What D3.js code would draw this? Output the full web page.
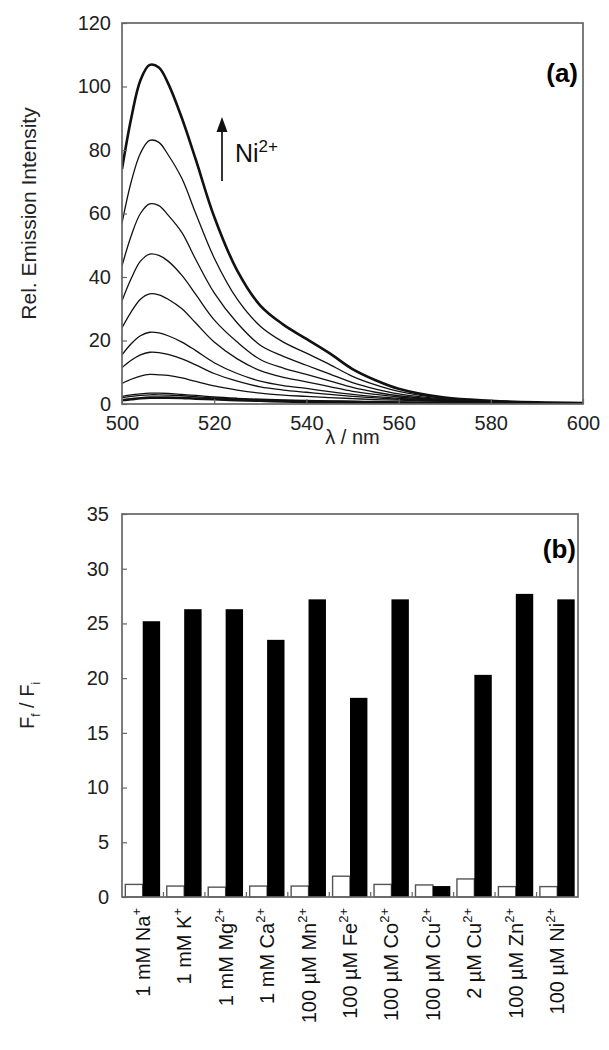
<!DOCTYPE html>
<html>
<head>
<meta charset="UTF-8" />
<script src="https://d3js.org/d3.v7.min.js"></script>
<style>
  body { margin: 0; background: #fff; }
  svg { display: block; font-family: "Liberation Sans", Arial, sans-serif; }
  .frame { fill: none; stroke: #666; stroke-width: 1.7; }
  .tick text { font-size: 20px; fill: #222; }
  .tick line { stroke: #666; stroke-width: 1.2; }
</style>
</head>
<body>
<svg width="609" height="1050"></svg>
<script>
// --- panel (a): emission spectra, wavelength in nm ---
const wavelengths = [500, 502, 504, 506, 508, 510, 513, 516, 520, 525, 530, 535, 540, 545, 550, 555, 560, 570, 580, 590, 600];
const spectra = [
  [74, 90, 102, 106.8, 106, 101, 90, 77, 59, 42, 31, 25, 20.5, 16, 11, 7.5, 4.8, 2, 1, 0.5, 0.3],
  [57, 70, 79, 83, 82.4, 78.5, 71, 60, 46, 33, 24.5, 19.5, 16, 12.5, 8.7, 6, 4, 1.8, 1, 0.5, 0.3],
  [43.5, 53, 60, 63, 62.5, 59.5, 54, 45.5, 35, 25.5, 18.5, 15, 12.2, 9.5, 6.7, 4.7, 3.2, 1.6, 0.9, 0.5, 0.3],
  [32.5, 39.5, 45, 47.2, 46.8, 45, 40.5, 34.5, 26.5, 19.5, 14, 11.3, 9.3, 7.3, 5.2, 3.7, 2.6, 1.4, 0.8, 0.4, 0.3],
  [24, 29, 33, 34.7, 34.4, 33, 30, 25.5, 19.5, 14.2, 10.5, 8.4, 7, 5.5, 4, 3, 2.2, 1.2, 0.7, 0.4, 0.3],
  [15.5, 19, 21.5, 22.6, 22.4, 21.5, 19.5, 16.8, 13, 9.6, 7.2, 5.8, 4.9, 3.9, 3, 2.3, 1.8, 1.1, 0.6, 0.4, 0.3],
  [11.5, 13.8, 15.5, 16.3, 16.2, 15.6, 14.2, 12.3, 9.6, 7.2, 5.4, 4.4, 3.7, 3, 2.4, 1.9, 1.5, 0.9, 0.6, 0.4, 0.3],
  [6.5, 7.8, 8.8, 9.3, 9.2, 9, 8.2, 7.1, 5.7, 4.4, 3.4, 2.8, 2.4, 2, 1.7, 1.4, 1.2, 0.8, 0.5, 0.3, 0.2],
  [2.4, 2.9, 3.2, 3.4, 3.4, 3.3, 3.0, 2.7, 2.2, 1.8, 1.5, 1.3, 1.1, 1.0, 0.9, 0.8, 0.7, 0.5, 0.4, 0.3, 0.2],
  [2.0, 2.4, 2.7, 2.9, 2.9, 2.8, 2.6, 2.3, 1.9, 1.6, 1.3, 1.1, 1.0, 0.9, 0.8, 0.7, 0.6, 0.4, 0.3, 0.2, 0.2],
  [1.2, 1.5, 1.8, 2.0, 2.0, 2.0, 1.9, 1.7, 1.5, 1.2, 1.0, 0.8, 0.6, 0.5, 0.4, 0.3, 0.3, 0.2, 0.2, 0.1, 0.1]
];
const boldCurves = [0, 10]; // first and last spectrum drawn thicker
const xTicksA = [500, 520, 540, 560, 580, 600];
const yTicksA = [0, 20, 40, 60, 80, 100, 120];

// --- panel (b): Ff/Fi per metal ion ---
const ions = [
  ["1 mM Na", "+"], ["1 mM K", "+"], ["1 mM Mg", "2+"], ["1 mM Ca", "2+"],
  ["100 µM Mn", "2+"], ["100 µM Fe", "2+"], ["100 µM Co", "2+"], ["100 µM Cu", "2+"],
  ["2 µM Cu", "2+"], ["100 µM Zn", "2+"], ["100 µM Ni", "2+"]
];
const ratioBefore = [1.15, 1.0, 0.9, 1.0, 1.0, 1.9, 1.15, 1.1, 1.65, 0.95, 0.95];
const ratioAfter  = [25.2, 26.3, 26.3, 23.5, 27.2, 18.2, 27.2, 1.0, 20.3, 27.7, 27.2];
const yTicksB = [0, 5, 10, 15, 20, 25, 30, 35];

const svg = d3.select("svg");

// ================= panel (a) =================
const A = {left: 122, right: 583, top: 23, bottom: 404};
const xA = d3.scaleLinear().domain([500, 600]).range([A.left, A.right]);
const yA = d3.scaleLinear().domain([0, 120]).range([A.bottom, A.top]);

svg.append("defs").append("clipPath").attr("id", "clipA")
  .append("rect").attr("x", A.left).attr("y", A.top)
  .attr("width", A.right - A.left).attr("height", A.bottom - A.top);

const line = d3.line()
  .x((d, i) => xA(wavelengths[i]))
  .y(d => yA(d))
  .curve(d3.curveCatmullRom.alpha(0.5));

svg.append("g").attr("clip-path", "url(#clipA)")
  .selectAll("path")
  .data(spectra)
  .join("path")
  .attr("d", line)
  .attr("fill", "none")
  .attr("stroke", "#111")
  .attr("stroke-width", (d, i) => boldCurves.includes(i) ? 2.6 : 1.3);

svg.append("g").attr("transform", `translate(0,${A.bottom})`)
  .call(d3.axisTop(xA).tickValues(xTicksA).tickSize(5).tickFormat(""))
  .call(g => g.select(".domain").remove());
svg.append("g").attr("transform", `translate(0,${A.bottom})`)
  .call(d3.axisBottom(xA).tickValues(xTicksA).tickSize(0).tickPadding(12))
  .call(g => g.select(".domain").remove());
svg.append("g").attr("transform", `translate(${A.left},0)`)
  .call(d3.axisRight(yA).tickValues(yTicksA).tickSize(5).tickFormat(""))
  .call(g => g.select(".domain").remove());
svg.append("g").attr("transform", `translate(${A.left},0)`)
  .call(d3.axisLeft(yA).tickValues(yTicksA).tickSize(0).tickPadding(11))
  .call(g => g.select(".domain").remove());

svg.append("rect").attr("class", "frame")
  .attr("x", A.left).attr("y", A.top)
  .attr("width", A.right - A.left).attr("height", A.bottom - A.top);

svg.append("text").attr("x", 578).attr("y", 82)
  .attr("text-anchor", "end").style("font-size", "26px").style("font-weight", "bold")
  .text("(a)");

svg.append("text")
  .attr("transform", `translate(36,${(A.top + A.bottom) / 2}) rotate(-90)`)
  .attr("text-anchor", "middle").style("font-size", "21px").attr("fill", "#222")
  .text("Rel. Emission Intensity");

svg.append("text").attr("x", (A.left + A.right) / 2).attr("y", 444)
  .attr("text-anchor", "middle").style("font-size", "20px").attr("fill", "#222")
  .text("λ / nm");

// arrow with Ni2+
svg.append("line").attr("x1", 222).attr("x2", 222).attr("y1", 181).attr("y2", 130)
  .attr("stroke", "#111").attr("stroke-width", 1.7);
svg.append("path").attr("d", "M222,117 L216.5,132 L227.5,132 Z").attr("fill", "#111");
const ni = svg.append("text").attr("x", 235).attr("y", 162).style("font-size", "25px").attr("fill", "#111");
ni.append("tspan").text("Ni");
ni.append("tspan").attr("dy", -10).style("font-size", "17px").text("2+");

// ================= panel (b) =================
const B = {left: 122, right: 578, top: 514, bottom: 897};
const xB = d3.scaleBand().domain(d3.range(ions.length)).range([B.left, B.right])
  .paddingInner(0.16).paddingOuter(0.08);
const xSub = d3.scaleBand().domain([0, 1]).range([0, xB.bandwidth()]);
const yB = d3.scaleLinear().domain([0, 35]).range([B.bottom, B.top]);

const groups = svg.append("g").selectAll("g")
  .data(ions.map((d, i) => i))
  .join("g")
  .attr("transform", i => `translate(${xB(i)},0)`);

groups.append("rect")
  .attr("x", xSub(0)).attr("width", xSub.bandwidth())
  .attr("y", i => yB(ratioBefore[i]))
  .attr("height", i => yB(0) - yB(ratioBefore[i]))
  .attr("fill", "#fff").attr("stroke", "#555").attr("stroke-width", 1.4);

groups.append("rect")
  .attr("x", xSub(1)).attr("width", xSub.bandwidth())
  .attr("y", i => yB(ratioAfter[i]))
  .attr("height", i => yB(0) - yB(ratioAfter[i]))
  .attr("fill", "#000");

// small ticks between groups
const gapTicks = d3.range(1, ions.length).map(i => xB(i) - xB.step() * xB.paddingInner() / 2);
svg.append("g").selectAll("line").data(gapTicks).join("line")
  .attr("x1", d => d).attr("x2", d => d)
  .attr("y1", B.bottom).attr("y2", B.bottom - 5)
  .attr("stroke", "#666").attr("stroke-width", 1.2);

svg.append("g").attr("transform", `translate(${B.left},0)`)
  .call(d3.axisRight(yB).tickValues(yTicksB).tickSize(5).tickFormat(""))
  .call(g => g.select(".domain").remove());
svg.append("g").attr("transform", `translate(${B.left},0)`)
  .call(d3.axisLeft(yB).tickValues(yTicksB).tickSize(0).tickPadding(13))
  .call(g => g.select(".domain").remove());

svg.append("rect").attr("class", "frame")
  .attr("x", B.left).attr("y", B.top)
  .attr("width", B.right - B.left).attr("height", B.bottom - B.top);

// rotated category labels
ions.forEach((d, i) => {
  const cx = xB(i) + xB.bandwidth() / 2;
  const t = svg.append("text")
    .attr("transform", `translate(${cx},908) rotate(-90)`)
    .attr("text-anchor", "end").attr("dy", "0.35em")
    .style("font-size", "20px").attr("fill", "#111");
  t.append("tspan").text(d[0]);
  t.append("tspan").attr("dy", -9).style("font-size", "13px").text(d[1]);
});

svg.append("text").attr("x", 576).attr("y", 558)
  .attr("text-anchor", "end").style("font-size", "26px").style("font-weight", "bold")
  .text("(b)");

const fl = svg.append("text")
  .attr("transform", `translate(34,${(B.top + B.bottom) / 2}) rotate(-90)`)
  .attr("text-anchor", "middle").style("font-size", "20px").attr("fill", "#222");
fl.append("tspan").text("F");
fl.append("tspan").attr("dy", 6).style("font-size", "12px").text("f");
fl.append("tspan").attr("dy", -6).text(" / F");
fl.append("tspan").attr("dy", 6).style("font-size", "12px").text("i");
</script>
</body>
</html>
